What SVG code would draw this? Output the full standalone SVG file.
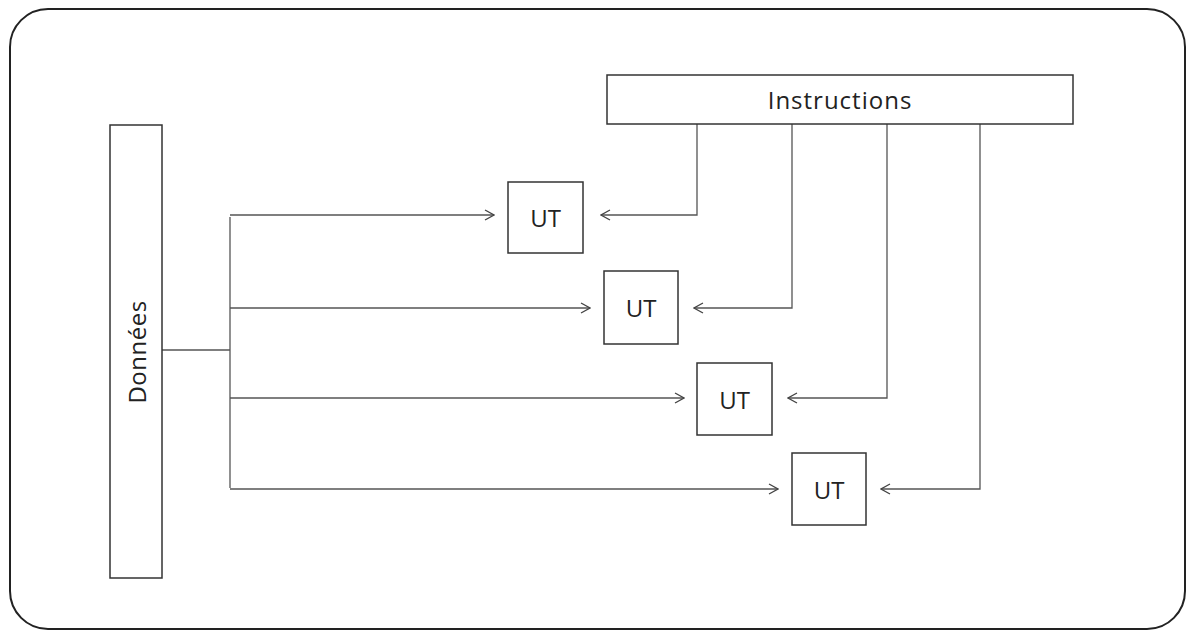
<svg xmlns="http://www.w3.org/2000/svg" width="1187" height="631" viewBox="0 0 1187 631">
<defs>
<style>
.box{fill:#fff;stroke:#333;stroke-width:1.5}
.frame{fill:#fff;stroke:#222;stroke-width:2}
.conn{fill:none;stroke:#555;stroke-width:1.3}
.lbl{font-family:"Open Sans","Liberation Sans",sans-serif;fill:#222}
</style>
<marker id="arr" viewBox="0 0 12 12" refX="11" refY="6" markerWidth="12" markerHeight="12" markerUnits="userSpaceOnUse" orient="auto">
<polyline points="2,1 11,6 2,11" fill="none" stroke="#444" stroke-width="1.3"/>
</marker>
</defs>
<rect id="frame" class="frame" x="10" y="9" width="1175" height="620" rx="38" ry="38"/>
<g id="connectors">
<polyline class="conn" points="162,350 230,350"/>
<polyline class="conn" points="230,217 230,488"/>
<polyline class="conn" points="230,215 494,215" marker-end="url(#arr)"/>
<polyline class="conn" points="230,308 590,308" marker-end="url(#arr)"/>
<polyline class="conn" points="230,398 684,398" marker-end="url(#arr)"/>
<polyline class="conn" points="230,489 778,489" marker-end="url(#arr)"/>
<polyline class="conn" points="697,124 697,215 601,215" marker-end="url(#arr)"/>
<polyline class="conn" points="792,124 792,308 694,308" marker-end="url(#arr)"/>
<polyline class="conn" points="887,124 887,398 788,398" marker-end="url(#arr)"/>
<polyline class="conn" points="980,124 980,489 881,489" marker-end="url(#arr)"/>
</g>
<g id="donnees">
<rect class="box" x="110" y="125" width="52" height="453"/>
<text class="lbl" x="136" y="352" font-size="24" letter-spacing="0.5" text-anchor="middle" dominant-baseline="central" transform="rotate(-90 136 352)">Données</text>
</g>
<g id="instructions">
<rect class="box" x="607" y="75" width="466" height="49"/>
<text class="lbl" x="840" y="99" font-size="24" letter-spacing="1" text-anchor="middle" dominant-baseline="central">Instructions</text>
</g>
<g id="ut1">
<rect class="box" x="508" y="182" width="75" height="71"/>
<text class="lbl" x="545.5" y="217.5" font-size="24" text-anchor="middle" dominant-baseline="central">UT</text>
</g>
<g id="ut2">
<rect class="box" x="604" y="271" width="74" height="73"/>
<text class="lbl" x="641" y="307.5" font-size="24" text-anchor="middle" dominant-baseline="central">UT</text>
</g>
<g id="ut3">
<rect class="box" x="697" y="363" width="75" height="72"/>
<text class="lbl" x="734.5" y="399" font-size="24" text-anchor="middle" dominant-baseline="central">UT</text>
</g>
<g id="ut4">
<rect class="box" x="792" y="453" width="74" height="72"/>
<text class="lbl" x="829" y="489" font-size="24" text-anchor="middle" dominant-baseline="central">UT</text>
</g>
</svg>
